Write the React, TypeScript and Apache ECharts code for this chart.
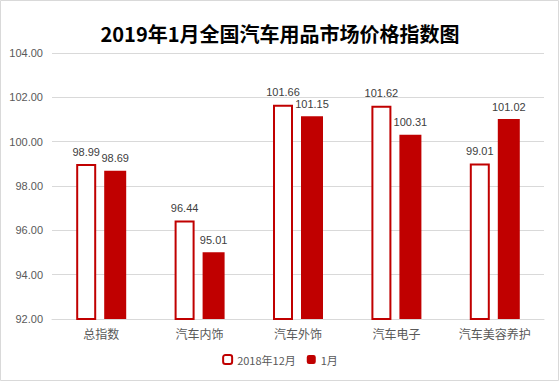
import React, { useEffect, useRef } from "react";
import * as echarts from "echarts";

const categories = ["总指数", "汽车内饰", "汽车外饰", "汽车电子", "汽车美容养护"];
const dec2018 = [98.99, 96.44, 101.66, 101.62, 99.01];
const jan2019 = [98.69, 95.01, 101.15, 100.31, 101.02];
const seriesNames = ["2018年12月", "1月"];
const titleText = "2019年1月全国汽车用品市场价格指数图";

export default function App() {
  const ref = useRef<HTMLDivElement>(null);
  useEffect(() => {
    if (!ref.current) return;
    const chart = echarts.init(ref.current, null, { renderer: "svg" });
    const red = "#c00000";
    const labelStyle = {
      show: true,
      position: "top" as const,
      distance: 7,
      color: "#404040",
      fontSize: 11,
      fontFamily: "Liberation Sans, Arial, sans-serif",
      formatter: (p: any) => p.value.toFixed(2),
    };
    chart.setOption({
      animation: false,
      backgroundColor: "#ffffff",
      title: {
        text: titleText,
        left: "center",
        top: 18,
        textStyle: {
          fontSize: 20,
          fontWeight: "bold",
          color: "#000000",
          fontFamily: "Noto Sans CJK SC, sans-serif",
        },
      },
      graphic: [
        {
          type: "rect",
          shape: { x: 0.5, y: 0.5, width: 558, height: 380 },
          style: { fill: "none", stroke: "#d9d9d9", lineWidth: 1 },
          silent: true,
        },
      ],
      legend: {
        bottom: 12,
        left: "center",
        itemWidth: 9,
        itemHeight: 9,
        itemGap: 11,
        textStyle: {
          color: "#595959",
          fontSize: 11,
          fontFamily: "Noto Sans CJK SC, sans-serif",
        },
        data: seriesNames,
      },
      grid: { left: 52, right: 16, top: 53, bottom: 63 },
      xAxis: {
        type: "category",
        data: categories,
        axisLine: { lineStyle: { color: "#d9d9d9" } },
        axisTick: { show: false },
        axisLabel: {
          color: "#595959",
          fontSize: 12,
          margin: 8,
          fontFamily: "Noto Sans CJK SC, sans-serif",
        },
      },
      yAxis: {
        type: "value",
        min: 92,
        max: 104,
        interval: 2,
        axisLine: { show: false },
        axisTick: { show: false },
        splitLine: { lineStyle: { color: "#d9d9d9" } },
        axisLabel: {
          color: "#595959",
          fontSize: 11,
          margin: 9,
          fontFamily: "Liberation Sans, Arial, sans-serif",
          formatter: (v: number) => v.toFixed(2),
        },
      },
      series: [
        {
          name: seriesNames[0],
          type: "bar",
          data: dec2018,
          barWidth: 20,
          barGap: "40%",
          itemStyle: { color: "#ffffff", borderColor: red, borderWidth: 2 },
          label: labelStyle,
        },
        {
          name: seriesNames[1],
          type: "bar",
          data: jan2019,
          barWidth: 22,
          itemStyle: { color: red },
          label: labelStyle,
        },
      ],
    });
    return () => chart.dispose();
  }, []);
  return (
    <div
      ref={ref}
      style={{ position: "fixed", left: 0, top: 0, width: 560, height: 382 }}
    />
  );
}
